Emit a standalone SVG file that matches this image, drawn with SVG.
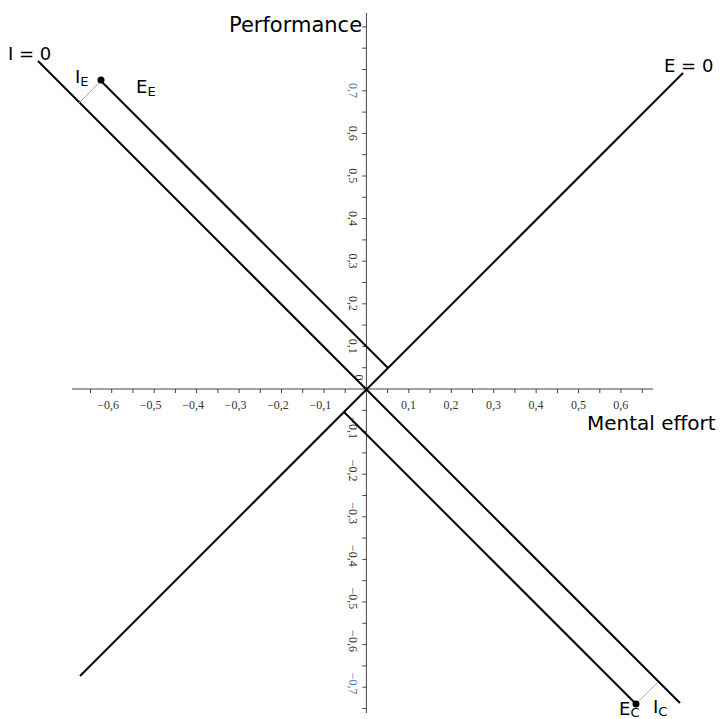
<svg xmlns="http://www.w3.org/2000/svg" width="721" height="719" viewBox="0 0 721 719">
<style>
.axis{stroke:#444;stroke-width:1;fill:none}
.tick{stroke:#444;stroke-width:1;fill:none}
.tl{font-family:"Liberation Serif",serif;font-size:12px;fill:#333}
.tl.blue{fill:#4a78c0}
.main{stroke:#000;stroke-width:2;fill:none;stroke-linecap:butt}
.thin{stroke:#aaa;stroke-width:1;fill:none}
.lbl{font-family:"DejaVu Sans",Verdana,sans-serif;fill:#000}
</style>
<rect width="721" height="719" fill="#fff"/>
<g id="axes">
<path class="axis" d="M72 389H653M366.4 13V713"/>
<path class="tick" d="M90.5 389v4M111.7 389v4M133 389v4M154.2 389v4M175.4 389v4M196.6 389v4M217.9 389v4M239.1 389v4M260.3 389v4M281.5 389v4M302.7 389v4M324 389v4M345.2 389v4M387.6 389v4M408.8 389v4M430.1 389v4M451.3 389v4M472.5 389v4M493.7 389v4M514.9 389v4M536.2 389v4M557.4 389v4M578.6 389v4M599.8 389v4M621 389v4M642.3 389v4"/>
<path class="tick" d="M366.4 26.9h-4M366.4 48.2h-4M366.4 69.5h-4M366.4 90.8h-4M366.4 112.1h-4M366.4 133.4h-4M366.4 154.7h-4M366.4 176h-4M366.4 197.3h-4M366.4 218.6h-4M366.4 239.9h-4M366.4 261.2h-4M366.4 282.5h-4M366.4 303.8h-4M366.4 325.1h-4M366.4 346.4h-4M366.4 367.7h-4M366.4 410.3h-4M366.4 431.6h-4M366.4 452.9h-4M366.4 474.2h-4M366.4 495.5h-4M366.4 516.8h-4M366.4 538.1h-4M366.4 559.4h-4M366.4 580.7h-4M366.4 602h-4M366.4 623.3h-4M366.4 644.6h-4M366.4 665.9h-4M366.4 687.2h-4M366.4 708.5h-4"/>
</g>
<g id="x-tick-labels" text-anchor="end">
<text class="tl" x="119" y="408.5">−0,6</text>
<text class="tl" x="161.5" y="408.5">−0,5</text>
<text class="tl" x="204" y="408.5">−0,4</text>
<text class="tl" x="246.4" y="408.5">−0,3</text>
<text class="tl" x="288.8" y="408.5">−0,2</text>
<text class="tl" x="331.3" y="408.5">−0,1</text>
<text class="tl" x="416.1" y="408.5">0,1</text>
<text class="tl" x="458.6" y="408.5">0,2</text>
<text class="tl" x="501" y="408.5">0,3</text>
<text class="tl" x="543.5" y="408.5">0,4</text>
<text class="tl" x="585.9" y="408.5">0,5</text>
<text class="tl" x="628.3" y="408.5">0,6</text>
</g>
<g id="y-tick-labels" text-anchor="end">
<text class="tl blue" transform="translate(348.5 98.1) rotate(90)">0,7</text>
<text class="tl" transform="translate(348.5 140.7) rotate(90)">0,6</text>
<text class="tl" transform="translate(348.5 183.3) rotate(90)">0,5</text>
<text class="tl" transform="translate(348.5 225.9) rotate(90)">0,4</text>
<text class="tl" transform="translate(348.5 268.5) rotate(90)">0,3</text>
<text class="tl" transform="translate(348.5 311.1) rotate(90)">0,2</text>
<text class="tl" transform="translate(348.5 353.7) rotate(90)">0,1</text>
<text class="tl" text-anchor="middle" transform="translate(354.5 377.5) rotate(90)">0</text>
<text class="tl" transform="translate(348.5 438.9) rotate(90)">−0,1</text>
<text class="tl" transform="translate(348.5 481.5) rotate(90)">−0,2</text>
<text class="tl" transform="translate(348.5 524.1) rotate(90)">−0,3</text>
<text class="tl" transform="translate(348.5 566.7) rotate(90)">−0,4</text>
<text class="tl" transform="translate(348.5 609.3) rotate(90)">−0,5</text>
<text class="tl" transform="translate(348.5 651.9) rotate(90)">−0,6</text>
<text class="tl blue" transform="translate(348.5 694.5) rotate(90)">−0,7</text>
</g>
<g id="connectors">
<line class="main" x1="38" y1="61" x2="680" y2="703"/>
<line class="main" x1="80" y1="676" x2="683" y2="73"/>
<line class="main" x1="101" y1="81" x2="388" y2="368"/>
<line class="main" x1="344" y1="412" x2="636" y2="704"/>
<line class="thin" x1="101" y1="81" x2="79" y2="103"/>
<line class="thin" x1="636" y1="704" x2="658" y2="682"/>
</g>
<g id="node-EE-point"><circle cx="101" cy="80" r="3.5" fill="#000"/></g>
<g id="node-EC-point"><circle cx="636" cy="704" r="3.5" fill="#000"/></g>
<g id="labels">
<text class="lbl" font-size="21" x="229" y="32">Performance</text>
<text class="lbl" font-size="20" x="587" y="430">Mental effort</text>
<text class="lbl" font-size="18" x="8" y="60">I = 0</text>
<text class="lbl" font-size="18" x="664" y="72">E = 0</text>
<text class="lbl" font-size="18" x="75" y="83">I<tspan font-size="13" dy="3">E</tspan></text>
<text class="lbl" font-size="18" x="136" y="92.5">E<tspan font-size="13" dy="3">E</tspan></text>
<text class="lbl" font-size="18" x="653" y="713">I<tspan font-size="13" dy="2.5">C</tspan></text>
<text class="lbl" font-size="18" x="619" y="715">E<tspan font-size="13" dy="2">C</tspan></text>
</g>
</svg>
